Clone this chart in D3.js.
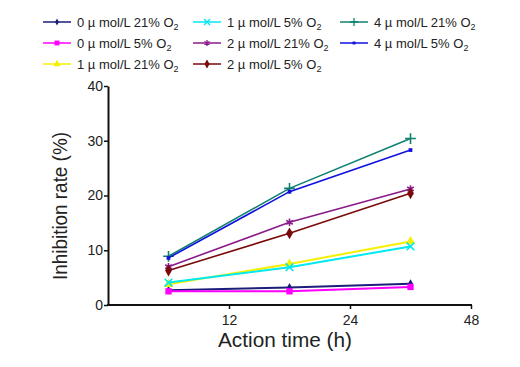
<!DOCTYPE html>
<html>
<head>
<meta charset="utf-8">
<script src="https://cdn.jsdelivr.net/npm/d3@7"></script>
<style>
  body { margin: 0; background: #fff; }
  svg { font-family: "Liberation Sans", Arial, sans-serif; }
</style>
</head>
<body>
<svg id="chart" width="520" height="367"></svg>
<script>
// x categories (points sit between ticks, like the Prism original)
const timeLabels = ["12", "24", "48"];
const pointPos = [0.5, 1.5, 2.5];

const seriesNames = [
  "0 µ mol/L 21% O", "0 µ mol/L 5% O", "1 µ mol/L 21% O",
  "1 µ mol/L 5% O", "2 µ mol/L 21% O", "2 µ mol/L 5% O",
  "4 µ mol/L 21% O", "4 µ mol/L 5% O"
];
const c0_21 = [2.7, 3.2, 3.9];
const c0_5 = [2.5, 2.5, 3.3];
const c1_21 = [3.8, 7.5, 11.6];
const c1_5 = [4.1, 6.9, 10.7];
const c2_21 = [7.0, 15.1, 21.2];
const c2_5 = [6.3, 13.1, 20.4];
const c4_21 = [8.9, 21.3, 30.4];
const c4_5 = [8.6, 20.7, 28.3];
const allValues = [c0_21, c0_5, c1_21, c1_5, c2_21, c2_5, c4_21, c4_5];

const colors = ["#1c1c7a", "#ff00ff", "#f5f000", "#00e8f0", "#8a1a8a", "#7a0a0a", "#108070", "#1010e0"];
const symbols = [d3.symbolDiamond, d3.symbolSquare, d3.symbolTriangle, d3.symbolTimes,
                 d3.symbolAsterisk, d3.symbolDiamond, d3.symbolPlus, d3.symbolSquare];
const stroked = [false, false, false, true, true, false, true, false];
const symSizes = [22, 40, 40, 40, 40, 40, 40, 14];
const yTicks = [0, 10, 20, 30, 40];

const svg = d3.select("#chart");

const x = d3.scaleLinear().domain([0, 3]).range([108, 471]);
const y = d3.scaleLinear().domain([0, 40]).range([305, 86]);

// axes
const xAxis = svg.append("g").attr("transform", "translate(0,305)")
  .call(d3.axisBottom(x).tickValues([1, 2, 3]).tickFormat((d, i) => timeLabels[i]).tickSize(4).tickSizeOuter(0));
const yAxis = svg.append("g").attr("transform", "translate(108,0)")
  .call(d3.axisLeft(y).tickValues(yTicks).tickSize(4).tickSizeOuter(0));

[xAxis, yAxis].forEach(a => {
  a.select(".domain").attr("stroke", "#111").attr("stroke-width", 2);
  a.selectAll(".tick line").attr("stroke", "#111").attr("stroke-width", 1.5);
  a.selectAll(".tick text").attr("fill", "#222").style("font-size", "14px")
    .style("font-family", "Liberation Sans, Arial, sans-serif");
});
xAxis.selectAll(".tick text").attr("dy", "0.9em");
yAxis.selectAll(".tick text").attr("x", -5);
// extend x domain line to meet y axis
xAxis.select(".domain").attr("d", "M107,0H472");

// axis titles
svg.append("text").attr("x", 285).attr("y", 347).attr("text-anchor", "middle")
  .attr("textLength", 134).attr("lengthAdjust", "spacingAndGlyphs")
  .style("font-size", "20px").attr("fill", "#222").text("Action time (h)");
svg.append("text").attr("transform", "translate(67,206) rotate(-90)").attr("text-anchor", "middle")
  .attr("textLength", 148).attr("lengthAdjust", "spacingAndGlyphs")
  .style("font-size", "20px").attr("fill", "#222").text("Inhibition rate (%)");

// lines + markers
const line = d3.line().x((d, i) => x(pointPos[i])).y(d => y(d));
allValues.forEach((vals, k) => {
  svg.append("path").datum(vals).attr("d", line)
    .attr("fill", "none").attr("stroke", colors[k]).attr("stroke-width", k < 4 ? 2 : 1.6);
  svg.selectAll(null).data(vals).join("path")
    .attr("transform", (d, i) => `translate(${x(pointPos[i])},${y(d)})`)
    .attr("d", d3.symbol().type(symbols[k]).size(symSizes[k]))
    .attr("fill", stroked[k] ? "none" : colors[k])
    .attr("stroke", stroked[k] ? colors[k] : "none")
    .attr("stroke-width", 1.6);
});

// legend, filled column by column (3 per column)
const legX = [43, 193, 340];
const legY = [22, 43, 64];
seriesNames.forEach((name, k) => {
  const col = Math.floor(k / 3), row = k % 3;
  const g = svg.append("g").attr("transform", `translate(${legX[col]},${legY[row]})`);
  g.append("line").attr("x1", 0).attr("x2", 28).attr("stroke", colors[k]).attr("stroke-width", 1.5);
  g.append("path").attr("transform", "translate(14,0)")
    .attr("d", d3.symbol().type(symbols[k]).size(symSizes[k] * 0.6))
    .attr("fill", stroked[k] ? "none" : colors[k])
    .attr("stroke", stroked[k] ? colors[k] : "none").attr("stroke-width", 1.3);
  const t = g.append("text").attr("x", 34).attr("y", 5).style("font-size", "13px").attr("fill", "#222");
  t.append("tspan").text(name);
  t.append("tspan").attr("dy", 3).style("font-size", "9px").text("2");
});
</script>
</body>
</html>
